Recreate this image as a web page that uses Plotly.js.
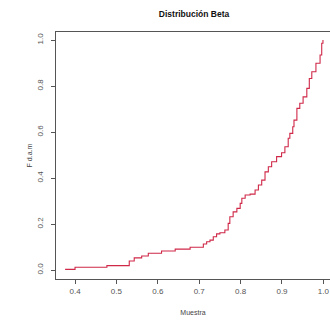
<!DOCTYPE html>
<html>
<head>
<meta charset="utf-8">
<script src="https://cdn.plot.ly/plotly-3.0.1.min.js"></script>
<style>html,body{margin:0;padding:0;background:#fff;overflow:hidden;}</style>
</head>
<body>
<div id="chart" style="width:330px;height:321px;"></div>
<script>
// Sorted sample values (Muestra)
const muestra = [0.376, 0.400, 0.477, 0.531, 0.543, 0.561, 0.577, 0.609, 0.642, 0.678,
  0.710, 0.718, 0.726, 0.734, 0.742, 0.750, 0.762, 0.770, 0.774, 0.782,
  0.791, 0.799, 0.803, 0.811, 0.823, 0.835, 0.843, 0.851, 0.859, 0.867,
  0.875, 0.887, 0.899, 0.907, 0.915, 0.919, 0.926, 0.929, 0.936, 0.943,
  0.951, 0.960, 0.966, 0.972, 0.982, 0.992, 0.996, 0.999];
// Empirical distribution function values (F d.a.m)
const fdam = [0.003, 0.012, 0.019, 0.039, 0.053, 0.061, 0.073, 0.083, 0.091, 0.099,
  0.113, 0.123, 0.130, 0.145, 0.157, 0.162, 0.174, 0.203, 0.232, 0.253,
  0.268, 0.290, 0.312, 0.326, 0.330, 0.348, 0.370, 0.391, 0.427, 0.449,
  0.471, 0.493, 0.510, 0.536, 0.573, 0.594, 0.623, 0.652, 0.703, 0.725,
  0.753, 0.790, 0.833, 0.862, 0.899, 0.935, 0.986, 1.000];
const xTicks = [0.4, 0.5, 0.6, 0.7, 0.8, 0.9, 1.0];
const xTickText = ['0.4', '0.5', '0.6', '0.7', '0.8', '0.9', '1.0'];
const yTicks = [0.0, 0.2, 0.4, 0.6, 0.8, 1.0];
const yTickText = ['0.0', '0.2', '0.4', '0.6', '0.8', '1.0'];

const trace = {
  x: muestra, y: fdam, type: 'scatter', mode: 'lines',
  line: {shape: 'hv', color: '#d02848', width: 1.1},
  hoverinfo: 'skip'
};
const axisFont = {family: 'Liberation Sans, Arial, sans-serif', size: 8, color: '#555'};
const layout = {
  width: 330, height: 321,
  margin: {l: 56, r: 0, t: 32, b: 42, pad: 0},
  paper_bgcolor: '#fff', plot_bgcolor: '#fff',
  showlegend: false,
  title: {text: '<b>Distribución Beta</b>', x: 0.588, xref: 'container', xanchor: 'center',
    y: 0.955, yref: 'container', yanchor: 'middle',
    font: {family: 'Liberation Sans, Arial, sans-serif', size: 8.5, color: '#111'}},
  xaxis: {range: [0.354, 1.016], tickvals: xTicks, ticktext: xTickText,
    showgrid: false, zeroline: false, showline: true, mirror: true,
    linecolor: '#555', linewidth: 1, ticks: 'outside', ticklen: 4, tickcolor: '#555',
    tickfont: axisFont,
    title: {text: 'Muestra', font: {family: 'Liberation Sans, Arial, sans-serif', size: 7, color: '#444'}, standoff: 15}},
  yaxis: {range: [-0.039, 1.035], tickvals: yTicks, ticktext: yTickText,
    showgrid: false, zeroline: false, showline: true, mirror: false,
    linecolor: '#555', linewidth: 1, ticks: 'outside', ticklen: 4, tickcolor: '#555',
    tickangle: -90, tickfont: axisFont, ticklabelstandoff: 5,
    title: {text: 'F d.a.m', font: {family: 'Liberation Sans, Arial, sans-serif', size: 7, color: '#444'}, standoff: 2}}
};
Plotly.newPlot('chart', [trace], layout, {staticPlot: true, displayModeBar: false});
</script>
</body>
</html>
